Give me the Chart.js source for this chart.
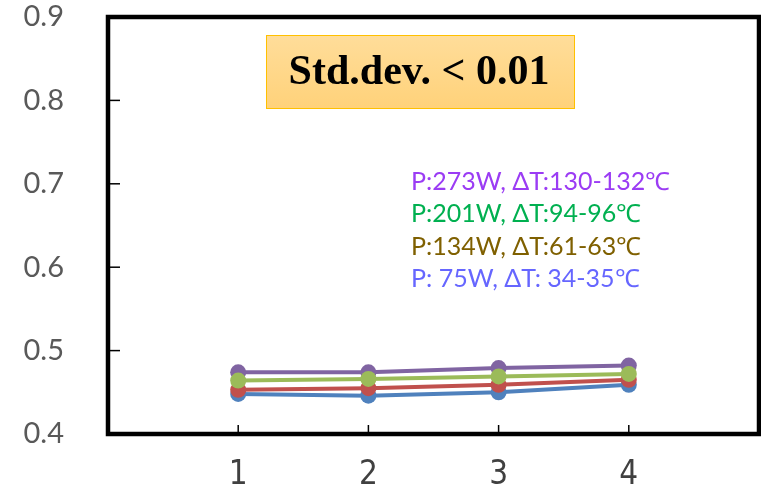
<!DOCTYPE html>
<html>
<head>
<meta charset="utf-8">
<script src="https://cdn.jsdelivr.net/npm/chart.js@4/dist/chart.umd.min.js"></script>
<style>
  html, body { margin: 0; padding: 0; background: #fff; }
  #wrap { width: 761px; height: 489px; }
</style>
</head>
<body>
<div id="wrap"><canvas id="stdChart" width="761" height="489"></canvas></div>
<script>
const runs = [1, 2, 3, 4];
const yTicks = [0.4, 0.5, 0.6, 0.7, 0.8, 0.9];

const p273 = [0.474, 0.474, 0.479, 0.482];
const p201 = [0.464, 0.466, 0.469, 0.472];
const p134 = [0.453, 0.455, 0.459, 0.465];
const p75 = [0.448, 0.446, 0.450, 0.459];

const legendLines = [
    { text: "P:273W, ΔT:130-132℃", color: "#9B3CF4" },
    { text: "P:201W, ΔT:94-96℃", color: "#00B050" },
    { text: "P:134W, ΔT:61-63℃", color: "#7F6000" },
    { text: "P: 75W, ΔT: 34-35℃", color: "#6666FF" },
];
const boxText = "Std.dev. < 0.01";

const toPoints = (vals) => vals.map((v, i) => ({ x: runs[i], y: v }));

const series = (label, vals, color, order) => ({
    label: label,
    data: toPoints(vals),
    borderColor: color,
    backgroundColor: color,
    borderWidth: 4,
    pointRadius: 8,
    pointHoverRadius: 8,
    pointBorderWidth: 0,
    order: order,
    clip: false,
});

// frame, inward ticks, text box and coloured notes
const decorations = {
    id: "decorations",
    afterDatasetsDraw(chart) {
        const { ctx, chartArea: a, scales } = chart;
        ctx.save();
        ctx.strokeStyle = "#000";
        ctx.lineWidth = 1.5;
        runs.forEach((r) => {
            const px = scales.x.getPixelForValue(r);
            ctx.beginPath();
            ctx.moveTo(px, a.bottom);
            ctx.lineTo(px, a.bottom - 9);
            ctx.stroke();
        });
        yTicks.slice(1, -1).forEach((t) => {
            const py = scales.y.getPixelForValue(t);
            ctx.beginPath();
            ctx.moveTo(a.left, py);
            ctx.lineTo(a.left + 12, py);
            ctx.stroke();
        });
        ctx.lineWidth = 4.5;
        ctx.strokeRect(a.left, a.top, a.right - a.left, a.bottom - a.top);

        // highlighted box
        const bx = 266, by = 35, bw = 308, bh = 73;
        const g = ctx.createLinearGradient(0, by, 0, by + bh);
        g.addColorStop(0, "#FFDD9A");
        g.addColorStop(1, "#FFD27A");
        ctx.fillStyle = g;
        ctx.fillRect(bx, by, bw, bh);
        ctx.strokeStyle = "#FFC000";
        ctx.lineWidth = 1;
        ctx.strokeRect(bx + 0.5, by + 0.5, bw, bh);
        ctx.fillStyle = "#000";
        ctx.font = "bold 42px 'Liberation Serif'";
        ctx.textAlign = "center";
        ctx.textBaseline = "middle";
        ctx.fillText(boxText, bx + bw / 2 - 1, by + bh / 2 + 2);

        ctx.font = "25px Lato";
        ctx.textAlign = "left";
        legendLines.forEach((l, i) => {
            ctx.fillStyle = l.color;
            ctx.fillText(l.text, 411, 182 + i * 32.3);
        });
        ctx.restore();
    },
};

new Chart(document.getElementById("stdChart"), {
    type: "line",
    data: {
        datasets: [
            series("273W", p273, "#8064A2", 1),
            series("201W", p201, "#9BBB59", 0),
            series("134W", p134, "#C0504D", 2),
            series("75W", p75, "#4F81BD", 3),
        ],
    },
    options: {
        responsive: false,
        animation: false,
        layout: { autoPadding: false, padding: { top: 17, right: 2, left: 0, bottom: 0 } },
        plugins: { legend: { display: false }, tooltip: { enabled: false } },
        scales: {
            x: {
                type: "linear",
                min: 0,
                max: 5,
                afterBuildTicks: (s) => { s.ticks = runs.map((v) => ({ value: v })); },
                afterFit: (s) => { s.height = 55; s.paddingLeft = 0; s.paddingRight = 0; },
                grid: { display: false },
                border: { display: false },
                ticks: {
                    color: "#404040",
                    font: { family: "'Liberation Sans Narrow', 'DejaVu Sans Condensed', 'Liberation Sans'", size: 33 },
                    padding: 14,
                    maxRotation: 0,
                },
            },
            y: {
                min: 0.4,
                max: 0.9,
                afterBuildTicks: (s) => { s.ticks = yTicks.map((v) => ({ value: v })); },
                afterFit: (s) => { s.width = 108; s.paddingTop = 0; s.paddingBottom = 0; },
                grid: { display: false },
                border: { display: false },
                ticks: {
                    color: "#595959",
                    font: { family: "Lato", size: 29 },
                    padding: 36,
                    callback: (v) => v.toFixed(1),
                },
            },
        },
    },
    plugins: [decorations],
});
</script>
</body>
</html>
